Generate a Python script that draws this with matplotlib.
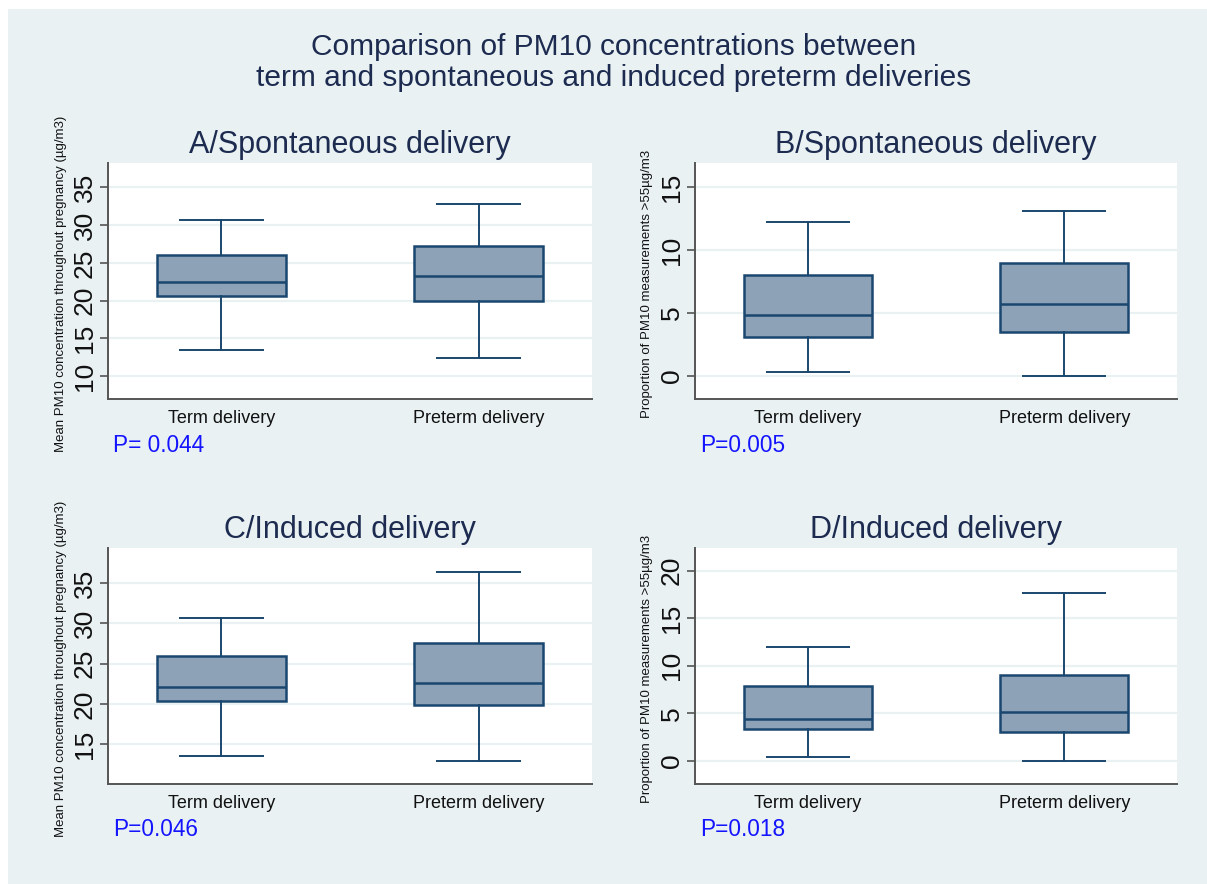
import matplotlib.pyplot as plt
from matplotlib.patches import Rectangle

plt.rcParams['font.family'] = ['Liberation Sans', 'DejaVu Sans']

groups = ["Term delivery", "Preterm delivery"]
panel_titles = ["A/Spontaneous delivery", "B/Spontaneous delivery",
                "C/Induced delivery", "D/Induced delivery"]
p_texts = ["P= 0.044", "P=0.005", "P=0.046", "P=0.018"]
ylabel_mean = "Mean PM10 concentration throughout pregnancy (\u00b5g/m3)"
ylabel_prop = "Proportion of PM10 measurements >55\u00b5g/m3"
title_lines = ["Comparison of PM10 concentrations between",
               "term and spontaneous and induced preterm deliveries"]

# box statistics: [term, preterm]
a_low = [13.5, 12.4]
a_q1 = [20.6, 19.9]
a_med = [22.5, 23.2]
a_q3 = [26.1, 27.2]
a_high = [30.7, 32.8]

b_low = [0.35, 0.0]
b_q1 = [3.1, 3.5]
b_med = [4.8, 5.7]
b_q3 = [8.0, 9.0]
b_high = [12.2, 13.1]

c_low = [13.5, 12.9]
c_q1 = [20.4, 19.8]
c_med = [22.1, 22.6]
c_q3 = [25.9, 27.6]
c_high = [30.7, 36.4]

d_low = [0.35, 0.0]
d_q1 = [3.3, 3.0]
d_med = [4.4, 5.1]
d_q3 = [7.9, 9.0]
d_high = [12.0, 17.7]

panels = [
    (a_low, a_q1, a_med, a_q3, a_high, [10, 15, 20, 25, 30, 35], (7, 38.2), ylabel_mean),
    (b_low, b_q1, b_med, b_q3, b_high, [0, 5, 10, 15], (-1.83, 16.9), ylabel_prop),
    (c_low, c_q1, c_med, c_q3, c_high, [15, 20, 25, 30, 35], (10.05, 39.35), ylabel_mean),
    (d_low, d_q1, d_med, d_q3, d_high, [0, 5, 10, 15, 20], (-2.45, 22.4), ylabel_prop),
]

W, H = 1207, 884
bg = '#e9f1f3'
navy = '#1a476f'
fill = '#8da2b7'
title_col = '#1c2b4f'

fig = plt.figure(figsize=(W / 100, H / 100), dpi=100, facecolor='white')
fig.patches.append(Rectangle((8 / W, 0), 1, 1 - 9 / H, transform=fig.transFigure,
                             facecolor=bg, edgecolor='none', zorder=-10))

# two-line main title
for k, line in enumerate(title_lines):
    fig.text(614 / W, 1 - (47 + 31 * k) / H, line, ha='center', va='center',
             fontsize=21.5, color=title_col)

# pixel boxes (left, right, top, bottom)
boxes = [(108, 592, 163, 399), (695, 1177, 163, 399),
         (108, 592, 548, 784), (695, 1177, 548, 784)]

for i, (low, q1, med, q3, high, ticks, ylim, ylab) in enumerate(panels):
    l, r, t, b = boxes[i]
    ax = fig.add_axes([l / W, 1 - b / H, (r - l) / W, (b - t) / H])
    ax.set_facecolor('white')
    stats = []
    for j in range(len(groups)):
        stats.append(dict(whislo=low[j], q1=q1[j], med=med[j], q3=q3[j],
                          whishi=high[j], fliers=[]))
    ax.bxp(stats, positions=[1, 2], widths=0.5, patch_artist=True,
           showfliers=False,
           boxprops=dict(facecolor=fill, edgecolor=navy, linewidth=1.8),
           medianprops=dict(color=navy, linewidth=1.8),
           whiskerprops=dict(color=navy, linewidth=1.4),
           capprops=dict(color=navy, linewidth=1.4, solid_capstyle='butt'),
           capwidths=0.33, zorder=3)
    ax.set_xlim(0.56, 2.44)
    ax.set_ylim(*ylim)
    ax.set_yticks(ticks)
    ax.set_yticklabels([str(v) for v in ticks], rotation=90, va='center',
                       fontsize=19, color='#111111')
    ax.set_xticks([1, 2])
    ax.set_xticklabels(groups, fontsize=13, color='#111111')
    ax.tick_params(axis='x', length=0, pad=8)
    ax.tick_params(axis='y', length=6, width=1.2, color='#555555', pad=2)
    ax.grid(axis='y', color=bg, linewidth=1.6, zorder=0)
    ax.set_axisbelow(True)
    for s in ['top', 'right']:
        ax.spines[s].set_visible(False)
    for s in ['left', 'bottom']:
        ax.spines[s].set_color('#555555')
        ax.spines[s].set_linewidth(1.4)

    ax.set_title(panel_titles[i], fontsize=22, color=title_col, pad=7)
    yl_x = 61 if i % 2 == 0 else 647
    fig.text(yl_x / W, 1 - ((t + b) / 2 + 3) / H, ylab, rotation=90,
             ha='center', va='center', fontsize=9.5, color='#111111')
    fig.text((l + 5) / W, 1 - (b + 46) / H, p_texts[i], ha='left', va='center',
             fontsize=16.3, color='#1414ff')

fig.savefig('out.png', dpi=100, facecolor=fig.get_facecolor())
